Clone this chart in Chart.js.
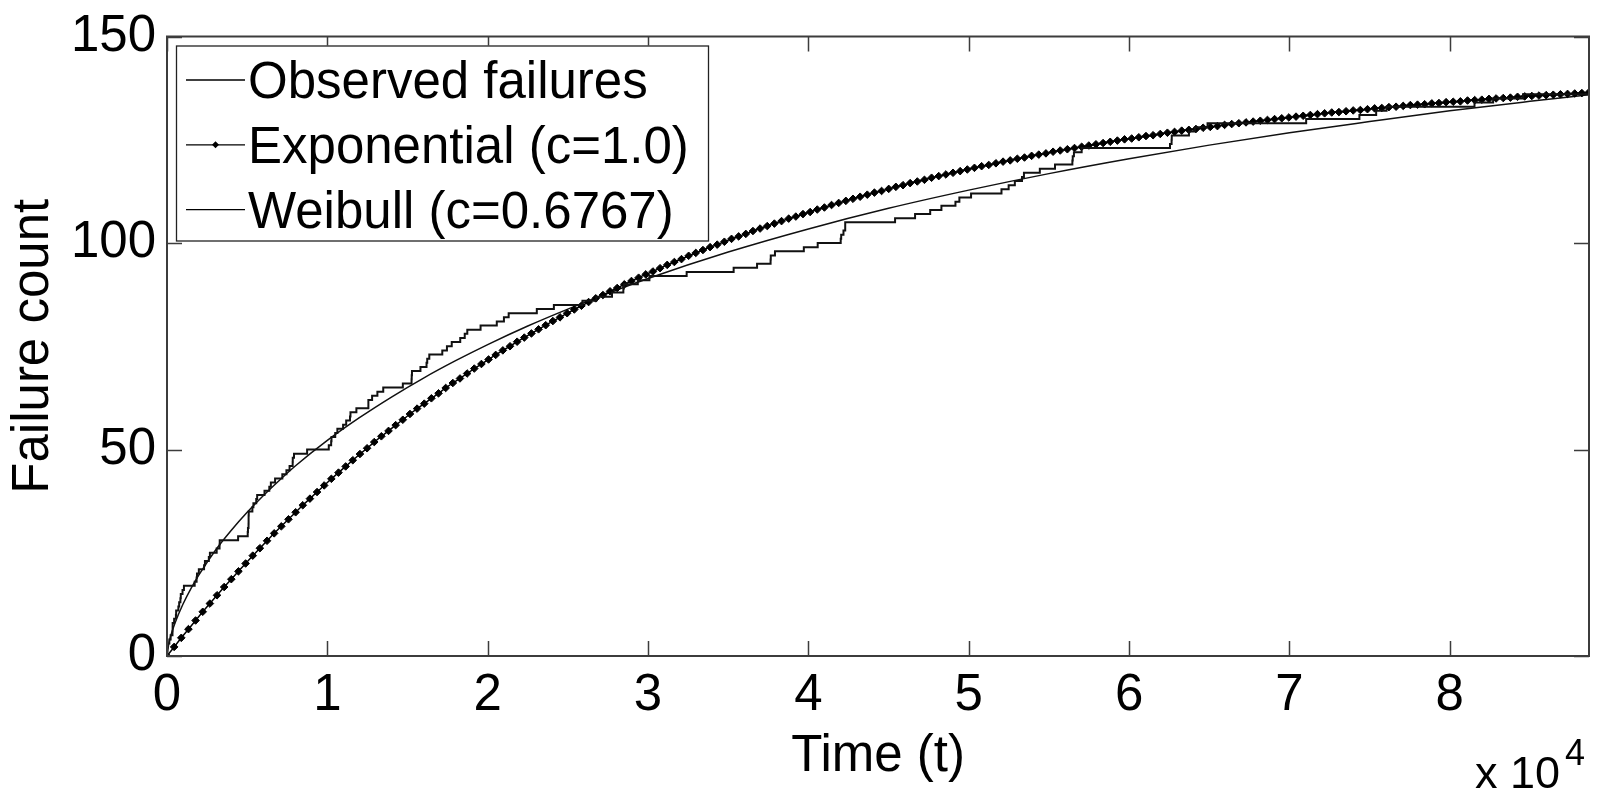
<!DOCTYPE html>
<html>
<head>
<meta charset="utf-8">
<script src="https://cdn.jsdelivr.net/npm/chart.js@4.4.0/dist/chart.umd.min.js"></script>
<style>
  html, body { margin: 0; padding: 0; background: #fff; }
  #wrap { width: 1598px; height: 790px; }
</style>
</head>
<body>
<div id="wrap"><canvas id="failure_chart" width="1598" height="790"></canvas></div>
<script>
// cumulative time (s) of each observed failure
const failureTimes = [
  3, 33, 146, 227, 342, 351, 353, 444, 556, 571, 709, 759, 836, 860, 968, 1056,
  1726, 1846, 1872, 1986, 2311, 2366, 2608, 2676, 3098, 3278, 3288, 4434, 5034,
  5049, 5085, 5089, 5089, 5097, 5324, 5389, 5565, 5623, 6080, 6380, 6477, 6740,
  7192, 7447, 7644, 7837, 7843, 7922, 8738, 10089, 10237, 10258, 10491, 10625,
  10982, 11175, 11411, 11442, 11811, 12559, 12559, 12791, 13121, 13486, 14708,
  15251, 15261, 15277, 15806, 16185, 16229, 16358, 17168, 17458, 17758, 18287,
  18568, 18728, 19556, 20567, 21012, 21308, 23063, 24127, 25910, 26770, 27753,
  28460, 28493, 29361, 30085, 32408, 35338, 36799, 37642, 37654, 37915, 39715,
  40580, 42015, 42045, 42188, 42296, 42296, 45406, 46653, 47596, 48296, 49171,
  49416, 50145, 52042, 52489, 52875, 53321, 53443, 54433, 55381, 56463, 56485,
  56560, 57042, 62551, 62651, 62661, 63732, 64103, 64893, 71043, 74364, 75409,
  76057, 81542, 82702, 84566, 88682
];

// sample times of the exponential fit (one marker each)
const expTimes = [
  0, 446, 891, 1337, 1783, 2228, 2674, 3119, 3565, 4011,
  4456, 4902, 5348, 5793, 6239, 6685, 7130, 7576, 8022, 8467,
  8913, 9358, 9804, 10250, 10695, 11141, 11587, 12032, 12478, 12924,
  13369, 13815, 14260, 14706, 15152, 15597, 16043, 16489, 16934, 17380,
  17826, 18271, 18717, 19163, 19608, 20054, 20499, 20945, 21391, 21836,
  22282, 22728, 23173, 23619, 24065, 24510, 24956, 25401, 25847, 26293,
  26738, 27184, 27630, 28075, 28521, 28967, 29412, 29858, 30304, 30749,
  31195, 31640, 32086, 32532, 32977, 33423, 33869, 34314, 34760, 35206,
  35651, 36097, 36542, 36988, 37434, 37879, 38325, 38771, 39216, 39662,
  40108, 40553, 40999, 41445, 41890, 42336, 42781, 43227, 43673, 44118,
  44564, 45010, 45455, 45901, 46347, 46792, 47238, 47683, 48129, 48575,
  49020, 49466, 49912, 50357, 50803, 51249, 51694, 52140, 52586, 53031,
  53477, 53922, 54368, 54814, 55259, 55705, 56151, 56596, 57042, 57488,
  57933, 58379, 58824, 59270, 59716, 60161, 60607, 61053, 61498, 61944,
  62390, 62835, 63281, 63727, 64172, 64618, 65063, 65509, 65955, 66400,
  66846, 67292, 67737, 68183, 68629, 69074, 69520, 69965, 70411, 70857,
  71302, 71748, 72194, 72639, 73085, 73531, 73976, 74422, 74868, 75313,
  75759, 76204, 76650, 77096, 77541, 77987, 78433, 78878, 79324, 79770,
  80215, 80661, 81106, 81552, 81998, 82443, 82889, 83335, 83780, 84226,
  84672, 85117, 85563, 86009, 86454, 86900, 87345, 87791, 88237, 88682
];
const expCount = [
  0, 2.2, 4.4, 6.5, 8.6, 10.7, 12.7, 14.7, 16.7, 18.6,
  20.5, 22.4, 24.3, 26.1, 27.9, 29.7, 31.4, 33.1, 34.8, 36.5,
  38.1, 39.7, 41.3, 42.9, 44.4, 45.9, 47.4, 48.9, 50.3, 51.8,
  53.2, 54.5, 55.9, 57.2, 58.6, 59.9, 61.1, 62.4, 63.6, 64.9,
  66.1, 67.2, 68.4, 69.6, 70.7, 71.8, 72.9, 74.0, 75.0, 76.1,
  77.1, 78.1, 79.1, 80.1, 81.1, 82.0, 83.0, 83.9, 84.8, 85.7,
  86.6, 87.4, 88.3, 89.1, 90.0, 90.8, 91.6, 92.4, 93.1, 93.9,
  94.7, 95.4, 96.1, 96.9, 97.6, 98.3, 99.0, 99.6, 100.3, 101.0,
  101.6, 102.2, 102.9, 103.5, 104.1, 104.7, 105.3, 105.9, 106.4, 107.0,
  107.5, 108.1, 108.6, 109.2, 109.7, 110.2, 110.7, 111.2, 111.7, 112.2,
  112.6, 113.1, 113.6, 114.0, 114.5, 114.9, 115.3, 115.8, 116.2, 116.6,
  117.0, 117.4, 117.8, 118.2, 118.6, 118.9, 119.3, 119.7, 120.0, 120.4,
  120.7, 121.1, 121.4, 121.7, 122.1, 122.4, 122.7, 123.0, 123.3, 123.6,
  123.9, 124.2, 124.5, 124.8, 125.1, 125.3, 125.6, 125.9, 126.1, 126.4,
  126.7, 126.9, 127.2, 127.4, 127.6, 127.9, 128.1, 128.3, 128.6, 128.8,
  129.0, 129.2, 129.4, 129.6, 129.8, 130.0, 130.2, 130.4, 130.6, 130.8,
  131.0, 131.2, 131.4, 131.6, 131.7, 131.9, 132.1, 132.2, 132.4, 132.6,
  132.7, 132.9, 133.0, 133.2, 133.4, 133.5, 133.6, 133.8, 133.9, 134.1,
  134.2, 134.3, 134.5, 134.6, 134.7, 134.9, 135.0, 135.1, 135.2, 135.4,
  135.5, 135.6, 135.7, 135.8, 135.9, 136.0, 136.1, 136.2, 136.3, 136.5
];

// weibull fit, sampled denser near the origin where it bends hardest
const weibullTimes = [
  0, 100, 250, 500, 1000, 1500, 2000, 3000, 4000, 5000, 6000, 7000, 8000,
  10000, 12000, 14000, 16000, 18000, 20000, 22500, 25000, 27500, 30000,
  35000, 40000, 45000, 50000, 55000, 60000, 65000, 70000, 75000, 80000,
  85000, 88682
];
const weibullCount = [
  0, 2.7, 5.1, 8.0, 12.6, 16.4, 19.7, 25.5, 30.4, 34.8, 38.8, 42.5, 46.0,
  52.2, 57.7, 62.7, 67.3, 71.5, 75.4, 79.9, 84.0, 87.8, 91.4,
  97.8, 103.4, 108.4, 112.8, 116.8, 120.4, 123.7, 126.7, 129.4, 132.0,
  134.3, 135.9
];

const seriesNames = ['Observed failures', 'Exponential (c=1.0)', 'Weibull (c=0.6767)'];
const xTicks = [0, 10000, 20000, 30000, 40000, 50000, 60000, 70000, 80000];
const yTicks = [0, 50, 100, 150];
const xMax = 88682;

const FONT = "'Liberation Sans', Arial, Helvetica, sans-serif";
const FONT_SIZE = 51;

// where the axes box should end up on the canvas
const plotBox = { left: 167, top: 31, right: 1589, bottom: 656 };

function toPoints(xs, ys) {
  return xs.map((x, i) => ({ x: x, y: ys[i] }));
}

// step data: count goes up by one at every failure time
const observed = [{ x: 0, y: 0 }].concat(failureTimes.map((t, i) => ({ x: t, y: i + 1 })));

// box + inward ticks on all four sides
const boxAxes = {
  id: 'boxAxes',
  afterDatasetsDraw(chart) {
    const { ctx, chartArea: a, scales: { x, y } } = chart;
    const len = 15;
    ctx.save();
    ctx.strokeStyle = '#3c3c3c';
    ctx.lineWidth = 1.5;
    ctx.beginPath();
    xTicks.forEach(v => {
      const px = Math.round(x.getPixelForValue(v)) + 0.5;
      ctx.moveTo(px, a.bottom); ctx.lineTo(px, a.bottom - len);
      ctx.moveTo(px, a.top); ctx.lineTo(px, a.top + len);
    });
    yTicks.forEach(v => {
      const py = Math.round(y.getPixelForValue(v)) + 0.5;
      ctx.moveTo(a.left, py); ctx.lineTo(a.left + len, py);
      ctx.moveTo(a.right, py); ctx.lineTo(a.right - len, py);
    });
    ctx.stroke();
    ctx.lineWidth = 2;
    ctx.strokeRect(a.left, a.top, a.right - a.left, a.bottom - a.top);
    ctx.restore();
  }
};

// legend sits inside the axes, top-left
const innerLegend = {
  id: 'innerLegend',
  afterDraw(chart) {
    const { ctx, chartArea: a } = chart;
    const bx = a.left + 9, by = a.top + 9, bw = 532, bh = 195;
    ctx.save();
    ctx.fillStyle = '#fff';
    ctx.fillRect(bx, by, bw, bh);
    ctx.strokeStyle = '#222';
    ctx.lineWidth = 1.3;
    ctx.strokeRect(bx + 0.5, by + 0.5, bw, bh);
    ctx.font = FONT_SIZE + 'px ' + FONT;
    ctx.textBaseline = 'alphabetic';
    ctx.fillStyle = '#000';
    chart.data.datasets.forEach((ds, i) => {
      const cy = by + 34.5 + i * 64.8;
      ctx.strokeStyle = '#000';
      ctx.lineWidth = 1.3;
      ctx.beginPath();
      ctx.moveTo(bx + 10, cy);
      ctx.lineTo(bx + 69, cy);
      ctx.stroke();
      if (ds.pointRadius > 0) {
        ctx.beginPath();
        ctx.moveTo(bx + 39.5, cy - 3.5);
        ctx.lineTo(bx + 43, cy);
        ctx.lineTo(bx + 39.5, cy + 3.5);
        ctx.lineTo(bx + 36, cy);
        ctx.closePath();
        ctx.fill();
      }
      ctx.fillText(ds.label, bx + 72, cy + 18);
    });
    ctx.restore();
  }
};

// "x 10^4" multiplier under the right end of the time axis
const axisExponent = {
  id: 'axisExponent',
  afterDraw(chart) {
    const { ctx } = chart;
    ctx.save();
    ctx.fillStyle = '#000';
    ctx.textBaseline = 'alphabetic';
    ctx.font = '45px ' + FONT;
    ctx.fillText('x 10', 1475, 788);
    ctx.font = '36px ' + FONT;
    ctx.fillText('4', 1565, 765);
    ctx.restore();
  }
};

const ctx = document.getElementById('failure_chart');

const chart = new Chart(ctx, {
  type: 'line',
  data: {
    datasets: [
      {
        label: seriesNames[0],
        data: observed,
        stepped: 'after',
        borderColor: '#111',
        borderWidth: 2,
        pointRadius: 0,
        fill: false
      },
      {
        label: seriesNames[1],
        data: toPoints(expTimes, expCount),
        borderColor: '#000',
        borderWidth: 1.5,
        pointRadius: 3.8,
        pointStyle: 'rectRot',
        pointBackgroundColor: '#000',
        pointBorderColor: '#000',
        pointBorderWidth: 1,
        fill: false
      },
      {
        label: seriesNames[2],
        data: toPoints(weibullTimes, weibullCount),
        borderColor: '#111',
        borderWidth: 1.5,
        pointRadius: 0,
        cubicInterpolationMode: 'monotone',
        fill: false
      }
    ]
  },
  options: {
    responsive: false,
    animation: false,
    events: [],
    layout: { padding: { left: 0, right: 9, top: 31, bottom: 0 } },
    plugins: {
      legend: { display: false },
      tooltip: { enabled: false }
    },
    scales: {
      x: {
        type: 'linear',
        min: 0,
        max: xMax,
        afterBuildTicks: s => { s.ticks = xTicks.map(v => ({ value: v })); },
        afterFit: s => { s.height = 134; },
        grid: { display: false, drawTicks: false },
        border: { display: false },
        ticks: {
          color: '#000',
          padding: 14,
          maxRotation: 0,
          autoSkip: false,
          font: { family: FONT, size: FONT_SIZE, lineHeight: 1 },
          callback: v => String(v / 10000)
        },
        title: {
          display: true,
          text: 'Time (t)',
          color: '#000',
          font: { family: FONT, size: FONT_SIZE, lineHeight: 1 },
          padding: { top: 0, bottom: 8 }
        }
      },
      y: {
        type: 'linear',
        min: 0,
        max: 150,
        afterBuildTicks: s => { s.ticks = yTicks.map(v => ({ value: v })); },
        afterFit: s => { s.width = 167; },
        grid: { display: false, drawTicks: false },
        border: { display: false },
        ticks: {
          color: '#000',
          padding: 11,
          font: { family: FONT, size: FONT_SIZE, lineHeight: 1 }
        },
        title: {
          display: true,
          text: 'Failure count',
          color: '#000',
          font: { family: FONT, size: FONT_SIZE, lineHeight: 1 },
          padding: { top: 8, bottom: 0 }
        }
      }
    }
  },
  plugins: [boxAxes, innerLegend, axisExponent]
});

// nudge the layout padding so the axes box lands on plotBox
const pad = chart.options.layout.padding;
const area = chart.chartArea;
pad.top += plotBox.top - area.top;
pad.left += plotBox.left - area.left;
pad.right += area.right - plotBox.right;
pad.bottom += area.bottom - plotBox.bottom;
chart.update();
</script>
</body>
</html>
